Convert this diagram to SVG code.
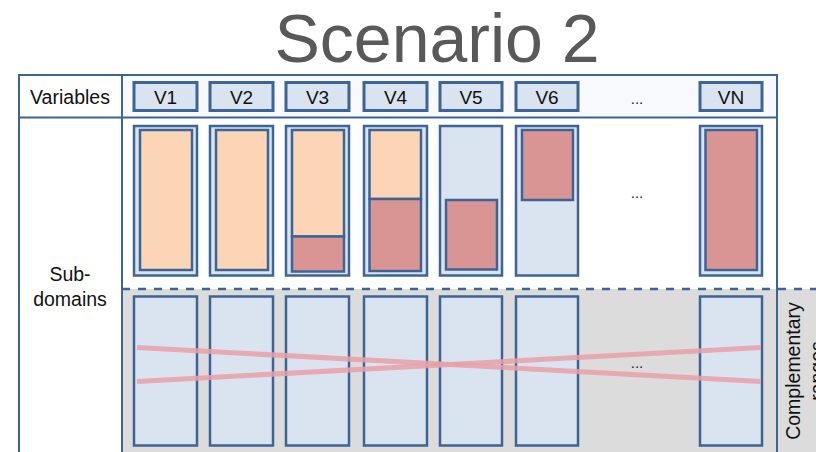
<svg xmlns="http://www.w3.org/2000/svg" width="816" height="452" viewBox="0 0 816 452">
  <style>
    .lbl { font-family: "Liberation Sans", Arial, sans-serif; font-size: 19.5px; fill: #111; }
    .vlbl { font-family: "Liberation Sans", Arial, sans-serif; font-size: 19px; fill: #111; text-anchor: middle; }
    .title { font-family: "Liberation Sans", Arial, sans-serif; font-size: 68px; fill: #595959; text-anchor: middle; }
    .frame { fill: none; stroke: #3d6496; stroke-width: 2; }
    .vbox { fill: #dae3f0; stroke: #3d6496; stroke-width: 3; }
    .outer { fill: #dae3f0; stroke: #3d6496; stroke-width: 2.5; }
    .cell { fill: #dae3f0; stroke: #3d6496; stroke-width: 2.5; }
    .ok { fill: #fbd5b5; stroke: #3d6496; stroke-width: 2.5; }
    .bad { fill: #d99594; stroke: #3d6496; stroke-width: 2.5; }
    .dots { font-family: "Liberation Sans", Arial, sans-serif; font-size: 15px; fill: #222; text-anchor: middle; }
    .cross { stroke: #e9a0a8; stroke-width: 5; stroke-opacity: 0.85; fill: none; }
  </style>

  <rect width="816" height="452" fill="#ffffff"/>

  <!-- title -->
  <text class="title" x="437" y="62">Scenario 2</text>

  <!-- table background -->
  <g id="table">
    <rect x="122" y="75" width="655" height="42.5" fill="#f7f9fc"/>
    <rect x="122" y="289" width="694" height="163" fill="#dcdcdc"/>
    <path class="frame" d="M19 452 V75 H777 V452 M122 75 V452 M19 117.5 H777"/>
    <line x1="122" y1="289" x2="816" y2="289" stroke="#3d6496" stroke-width="2.5" stroke-dasharray="8 8"/>
    <text class="lbl" x="70" y="104" text-anchor="middle">Variables</text>
    <text class="lbl" x="70" y="281" text-anchor="middle">Sub-</text>
    <text class="lbl" x="70" y="306" text-anchor="middle">domains</text>
    <text class="lbl" transform="translate(800 371) rotate(-90)" text-anchor="middle">Complementary</text>
    <text class="lbl" transform="translate(824 371) rotate(-90)" text-anchor="middle">ranges</text>
  </g>

  <!-- variable columns -->
  <g id="v1">
    <rect class="vbox" x="134" y="82.5" width="63" height="28"/>
    <text class="vlbl" x="165.5" y="104">V1</text>
    <rect class="outer" x="134" y="126" width="63" height="149.5"/>
    <rect class="ok" x="140" y="130" width="52" height="140"/>
    <rect class="cell" x="134" y="296.5" width="63" height="149"/>
  </g>
  <g id="v2">
    <rect class="vbox" x="210" y="82.5" width="63" height="28"/>
    <text class="vlbl" x="241.5" y="104">V2</text>
    <rect class="outer" x="210" y="126" width="63" height="149.5"/>
    <rect class="ok" x="216" y="130" width="52" height="140"/>
    <rect class="cell" x="210" y="296.5" width="63" height="149"/>
  </g>
  <g id="v3">
    <rect class="vbox" x="286" y="82.5" width="63" height="28"/>
    <text class="vlbl" x="317.5" y="104">V3</text>
    <rect class="outer" x="286" y="126" width="63" height="149.5"/>
    <rect class="ok" x="292" y="130" width="52" height="106.5"/>
    <rect class="bad" x="292" y="236.5" width="52" height="35"/>
    <rect class="cell" x="286" y="296.5" width="63" height="149"/>
  </g>
  <g id="v4">
    <rect class="vbox" x="364" y="82.5" width="63" height="28"/>
    <text class="vlbl" x="395.5" y="104">V4</text>
    <rect class="outer" x="364" y="126" width="63" height="149.5"/>
    <rect class="ok" x="369.5" y="130" width="51.5" height="69"/>
    <rect class="bad" x="369.5" y="199" width="51.5" height="72"/>
    <rect class="cell" x="364" y="296.5" width="63" height="149"/>
  </g>
  <g id="v5">
    <rect class="vbox" x="440" y="82.5" width="62" height="28"/>
    <text class="vlbl" x="471" y="104">V5</text>
    <rect class="outer" x="440" y="126" width="62" height="149.5"/>
    <rect class="bad" x="446" y="200" width="51" height="69.5"/>
    <rect class="cell" x="440" y="296.5" width="62" height="149"/>
  </g>
  <g id="v6">
    <rect class="vbox" x="516" y="82.5" width="62" height="28"/>
    <text class="vlbl" x="547" y="104">V6</text>
    <rect class="outer" x="516" y="126" width="62" height="149.5"/>
    <rect class="bad" x="522" y="130" width="51" height="70"/>
    <rect class="cell" x="516" y="296.5" width="62" height="149"/>
  </g>
  <g id="ellipsis">
    <text class="dots" x="637" y="104">...</text>
    <text class="dots" x="637" y="198">...</text>
  </g>
  <g id="vn">
    <rect class="vbox" x="700" y="82.5" width="62" height="28"/>
    <text class="vlbl" x="731" y="104">VN</text>
    <rect class="outer" x="700" y="126" width="62" height="149.5"/>
    <rect class="bad" x="705.5" y="130" width="51.5" height="140"/>
    <rect class="cell" x="700" y="296.5" width="62" height="149"/>
  </g>

  <!-- crossing connectors across the complementary row -->
  <g id="connectors">
    <line class="cross" x1="137" y1="347.5" x2="761" y2="381.5"/>
    <line class="cross" x1="137" y1="381.5" x2="761" y2="347.5"/>
  </g>
  <text class="dots" x="637" y="368">...</text>
</svg>
